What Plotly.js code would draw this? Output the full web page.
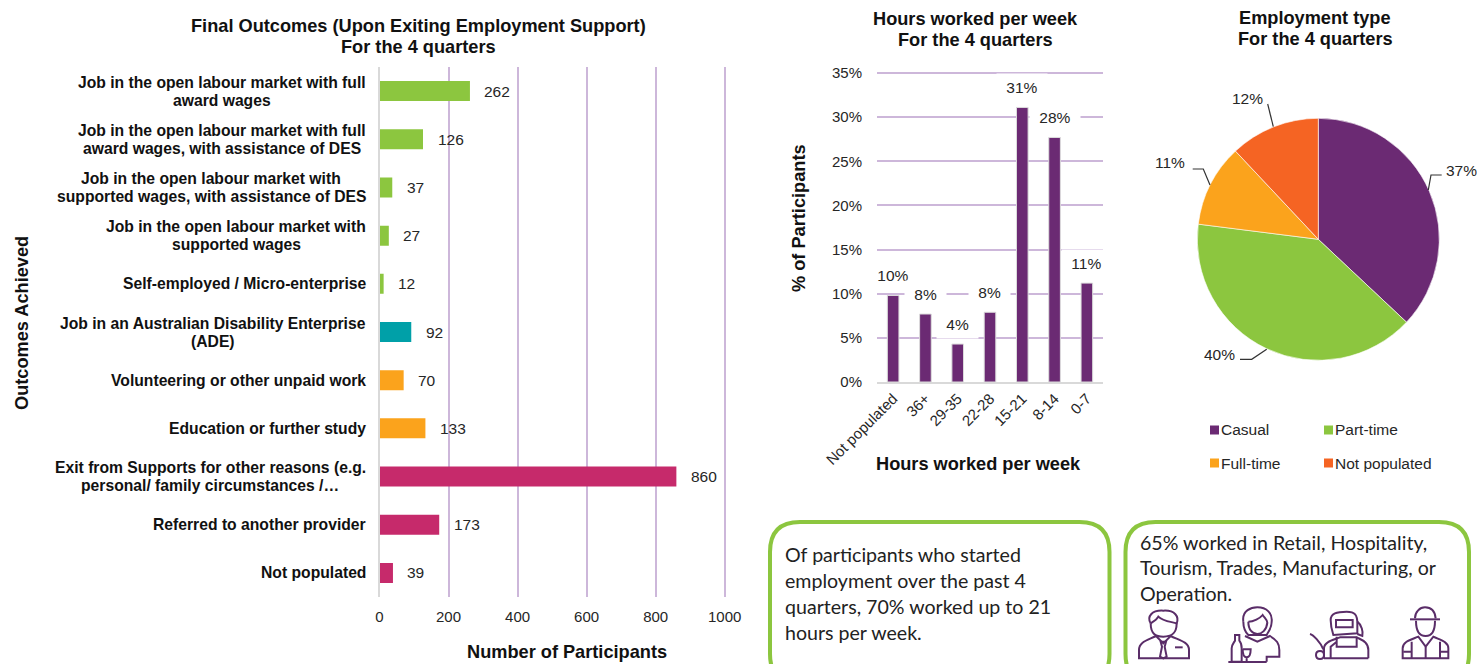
<!DOCTYPE html>
<html>
<head>
<meta charset="utf-8">
<script src="https://cdn.plot.ly/plotly-3.0.1.min.js"></script>
<style>html,body{margin:0;padding:0;background:#fff;overflow:hidden}#chart{width:1477px;height:664px}</style>
</head>
<body>
<div id="chart"></div>
<script>
const outcomeLabels = [
  "Job in the open labour market with full<br>award wages",
  "Job in the open labour market with full<br>award wages, with assistance of DES",
  "Job in the open labour market with<br>supported wages, with assistance of DES",
  "Job in the open labour market with<br>supported wages",
  "Self-employed / Micro-enterprise",
  "Job in an Australian Disability Enterprise<br>(ADE)",
  "Volunteering or other unpaid work",
  "Education or further study",
  "Exit from Supports for other reasons (e.g.<br>personal/ family circumstances /…",
  "Referred to another provider",
  "Not populated"
];
const outcomeValues = [262, 126, 37, 27, 12, 92, 70, 133, 860, 173, 39];
const outcomeColors = ["#8CC63F","#8CC63F","#8CC63F","#8CC63F","#8CC63F","#00A0A8","#FBA31C","#FBA31C","#C62A6B","#C62A6B","#C62A6B"];
const outcomeTicks = [0, 200, 400, 600, 800, 1000];
const hourBands = ["Not populated","36+","29-35","22-28","15-21","8-14","0-7"];
const hourValues = [9.8, 7.7, 4.3, 7.9, 31.1, 27.7, 11.2];
const hourTicks = [0, 5, 10, 15, 20, 25, 30, 35];
const typeNames = ["Casual","Part-time","Full-time","Not populated"];
const typeValues = [37, 40, 11, 12];
const typeColors = ["#6B2A73","#8CC63F","#FBA31C","#F56423"];
const box1Lines = ["Of participants who started","employment over the past 4","quarters, 70% worked up to 21","hours per week."];
const box2Lines = ["65% worked in Retail, Hospitality,","Tourism, Trades, Manufacturing, or","Operation."];
const titleLeft = ["Final Outcomes (Upon Exiting Employment Support)","For the 4 quarters"];
const titleMiddle = ["Hours worked per week","For the 4 quarters"];
const titleRight = ["Employment type","For the 4 quarters"];

const W = 1477, H = 664;
const fx = p => p / W, fy = p => 1 - p / H;
const SANS = '"Liberation Sans", Arial, sans-serif';
const GRID = '#CDB7DA', AXIS = '#D9D9D9', INK = '#262626', BOXG = '#8CC63F', ICON = '#5A2D68';
const TITLE_SIZE = 18.2, CAT_SIZE = 15.7, VAL_SIZE = 15.5, BODY_SIZE = 19.6;

const note = (px, py, text, opts) => Object.assign({
  xref:'paper', yref:'paper', x:fx(px), y:fy(py), text, showarrow:false,
  font:{family:SANS,size:VAL_SIZE,color:INK}, xanchor:'center', yanchor:'middle'
}, opts || {});
const bold = (size) => ({family:SANS,size,color:'#111',weight:700});
const ctx = document.createElement('canvas').getContext('2d');
ctx.font = 'bold ' + CAT_SIZE + 'px "Liberation Sans", Arial, sans-serif';

const annotations = [];
// titles, one annotation per line for the tight line spacing
titleLeft.forEach((t,i)=>annotations.push(note(418,26+i*21,'<b>'+t+'</b>',{font:bold(TITLE_SIZE)})));
titleMiddle.forEach((t,i)=>annotations.push(note(975,19+i*21,'<b>'+t+'</b>',{font:bold(TITLE_SIZE)})));
titleRight.forEach((t,i)=>annotations.push(note(1315,18+i*21,'<b>'+t+'</b>',{font:bold(TITLE_SIZE)})));
// axis titles
annotations.push(note(567,652,'<b>Number of Participants</b>',{font:bold(TITLE_SIZE)}));
annotations.push(note(22,323,'<b>Outcomes Achieved</b>',{font:bold(TITLE_SIZE),textangle:-90}));
annotations.push(note(978,464,'<b>Hours worked per week</b>',{font:bold(TITLE_SIZE)}));
annotations.push(note(799,218,'<b>% of Participants</b>',{font:bold(TITLE_SIZE),textangle:-90}));
// left chart category labels (block right-aligned, lines centred in the block) and values
outcomeLabels.forEach((c,i)=>{
  const lines = c.split('<br>');
  const blockW = Math.max(...lines.map(l=>ctx.measureText(l).width));
  lines.forEach((l,k)=>{
    annotations.push({xref:'paper',yref:'y',x:fx(366-blockW/2),y:c,yshift:((lines.length-1)/2-k)*18,text:'<b>'+l+'</b>',showarrow:false,xanchor:'center',yanchor:'middle',font:bold(CAT_SIZE)});
  });
  annotations.push({xref:'x',yref:'y',x:outcomeValues[i],y:c,text:String(outcomeValues[i]),showarrow:false,xanchor:'left',yanchor:'middle',xshift:12.5,font:{family:SANS,size:VAL_SIZE,color:INK}});
});
// middle chart value labels
hourBands.forEach((c,i)=>{
  annotations.push({xref:'x2',yref:'y2',x:c,y:hourValues[i],text:'&nbsp;'+Math.round(hourValues[i])+'%&nbsp;',showarrow:false,xanchor:'center',yanchor:'middle',yshift:20,bgcolor:'#fff',borderpad:5,font:{family:SANS,size:VAL_SIZE,color:INK}});
});
// pie labels
const pieLabelPos = [[1461.5,170],[1219,354],[1170,163],[1247.5,99]];
typeValues.forEach((v,i)=>annotations.push(note(pieLabelPos[i][0],pieLabelPos[i][1],v+'%')));
// pie legend text
const legendPos = [[1219,430],[1333,430],[1219,463],[1333,463]];
typeNames.forEach((n,i)=>annotations.push(note(legendPos[i][0],legendPos[i][1],n,{xanchor:'left'})));
// callout text
box1Lines.forEach((t,i)=>annotations.push(note(783,554+i*26,t,{xanchor:'left',font:{family:'Lato, sans-serif',size:BODY_SIZE,color:'#222'}})));
box2Lines.forEach((t,i)=>annotations.push(note(1138,542+i*25.5,t,{xanchor:'left',font:{family:'Lato, sans-serif',size:BODY_SIZE,color:'#222'}})));

// shapes
const shapes = [];
const pts = (arr) => 'M'+arr.map(p=>fx(p[0])+' '+fy(p[1])).join(' L');
[
  [[1428.3,190],[1431,175],[1441.7,175]],
  [[1266.7,349.3],[1251.7,359.3],[1240,359.3]],
  [[1210,185],[1203.3,169],[1192.7,169]],
  [[1273.3,126.7],[1267.7,104]]
].forEach(l=>shapes.push({type:'path',xref:'paper',yref:'paper',path:pts(l),line:{color:'#333',width:1.2},fillcolor:'rgba(0,0,0,0)'}));
const legendSq = [[1210,425.5],[1324,425.5],[1210,458.5],[1324,458.5]];
legendSq.forEach((p,i)=>shapes.push({type:'rect',xref:'paper',yref:'paper',x0:fx(p[0]),x1:fx(p[0]+9),y0:fy(p[1]),y1:fy(p[1]+9),fillcolor:typeColors[i],line:{width:0}}));
const roundBox = (l,r,t,b,rad) => `M${fx(l+rad)} ${fy(t)} L${fx(r-rad)} ${fy(t)} Q${fx(r)} ${fy(t)} ${fx(r)} ${fy(t+rad)} L${fx(r)} ${fy(b-rad)} Q${fx(r)} ${fy(b)} ${fx(r-rad)} ${fy(b)} L${fx(l+rad)} ${fy(b)} Q${fx(l)} ${fy(b)} ${fx(l)} ${fy(b-rad)} L${fx(l)} ${fy(t+rad)} Q${fx(l)} ${fy(t)} ${fx(l+rad)} ${fy(t)} Z`;
shapes.push({type:'path',xref:'paper',yref:'paper',path:roundBox(770,1109.5,522,684,30),line:{color:BOXG,width:4},fillcolor:'rgba(0,0,0,0)'});
shapes.push({type:'path',xref:'paper',yref:'paper',path:roundBox(1125.5,1469,522,684,30),line:{color:BOXG,width:4},fillcolor:'rgba(0,0,0,0)'});
// worker pictograms, drawn in a 3x local grid anchored at the right callout
const iconPaths = [
  // business person
  'M92 340 C92 375 110 380 130 380 C150 380 170 375 170 340',
  'M92 340 C80 320 95 300 130 302 C165 300 178 320 170 340 C155 335 130 335 115 320 C110 330 100 335 92 340',
  'M57 445 L57 420 C57 395 85 390 108 378 L130 400 L152 378 C175 390 207 395 207 420 L207 445 Z',
  'M122 395 L138 395 L134 410 L140 440 L130 445 L120 440 L126 410 Z',
  'M165 412 L188 412',
  // waitress
  'M370 335 C365 300 395 292 412 292 C440 292 458 310 455 335 C455 355 445 365 440 375 L385 375 C375 365 370 350 370 335',
  'M385 335 C400 335 420 325 428 315 C435 325 442 330 442 338 C440 360 425 372 412 372 C398 372 385 360 385 335',
  'M375 378 L412 395 L450 378 C470 390 478 400 478 420 L478 440 L440 440 L440 455',
  'M345 375 L358 375 L358 392 C365 400 365 405 365 415 L365 455 L335 455 L335 415 C335 405 340 400 345 392 Z',
  'M368 418 L392 418 C392 440 385 442 380 442 C375 442 368 440 368 418 M380 442 L380 455',
  'M325 456 L440 456',
  // welder
  'M632 330 C632 310 650 305 680 305 C705 305 712 315 712 340 L712 370 L640 375 C635 360 632 350 632 330 Z',
  'M648 330 L698 330 L698 352 L648 352 Z',
  'M712 335 C725 345 730 365 727 378 L712 372',
  'M612 445 L612 415 C612 395 640 390 660 382 L710 382 C725 390 745 395 745 420 L745 445',
  'M632 445 L632 410 L650 395 M650 380 L650 410 L710 410 L710 380 M612 445 L745 445',
  'M570 372 C580 375 600 395 610 418',
  'M588 435 C588 419 612 419 612 435 C612 451 588 451 588 435 Z',
  // construction worker
  'M885 325 C885 305 900 292 915 292 C935 292 945 305 947 325',
  'M870 328 L960 328',
  'M888 332 C888 365 900 378 917 378 C935 378 945 365 945 332',
  'M848 445 L848 415 C848 395 870 390 895 380 L917 410 L940 380 C960 390 985 395 985 415 L985 445 Z',
  'M875 395 L875 445 M960 395 L960 445 M917 410 L917 445 M850 425 L875 425 M960 425 L985 425'
];
const toPaper = d => d.replace(/(-?\d+\.?\d*) (-?\d+\.?\d*)/g,(m,a,b)=>fx(1120+a/3)+' '+fy(510+b/3));
iconPaths.forEach(d=>shapes.push({type:'path',xref:'paper',yref:'paper',path:toPaper(d),line:{color:ICON,width:2},fillcolor:'rgba(0,0,0,0)'}));

const traces = [
  {type:'bar',orientation:'h',x:outcomeValues,y:outcomeLabels,xaxis:'x',yaxis:'y',marker:{color:outcomeColors},width:0.415},
  {type:'bar',x:hourBands,y:hourValues,xaxis:'x2',yaxis:'y2',width:0.36,marker:{color:'#6B2A73',line:{color:'#DDDDDD',width:1}}},
  {type:'pie',labels:typeNames,values:typeValues,sort:false,direction:'clockwise',rotation:0,
   marker:{colors:typeColors,line:{color:'#fff',width:0.6}},textinfo:'none',
   domain:{x:[fx(1197.3),fx(1439.3)],y:[fy(360.3),fy(118.3)]}}
];

// each value axis runs slightly past its last tick so the end gridline is kept
const layout = {
  width:W,height:H,margin:{l:0,r:0,t:0,b:0},paper_bgcolor:'#fff',plot_bgcolor:'#fff',showlegend:false,
  font:{family:SANS,size:15,color:INK},
  xaxis:{domain:[fx(379.5),fx(379.5+345.2*1.005)],range:[0,1005],tickmode:'array',tickvals:outcomeTicks,ticktext:outcomeTicks.map(String),anchor:'y',showgrid:true,gridcolor:GRID,gridwidth:2,zeroline:false,showline:false,ticks:'',ticklabelstandoff:9,tickfont:{family:SANS,size:15,color:INK}},
  yaxis:{domain:[fy(597),fy(67)],anchor:'x',type:'category',categoryorder:'array',categoryarray:outcomeLabels,range:[10.5,-0.5],showticklabels:false,ticks:'',showgrid:false,zeroline:false,showline:true,linecolor:AXIS,linewidth:2},
  xaxis2:{domain:[fx(877),fx(1103)],range:[-0.5,6.5],anchor:'y2',type:'category',categoryorder:'array',categoryarray:hourBands,tickangle:-45,ticks:'',showgrid:false,zeroline:false,showline:true,linecolor:AXIS,linewidth:2,tickfont:{family:SANS,size:15,color:INK}},
  yaxis2:{domain:[fy(382),fy(382-309*35.2/35)],anchor:'x2',range:[0,35.2],tickmode:'array',tickvals:hourTicks,ticktext:hourTicks.map(v=>v+'%'),ticks:'',showgrid:true,gridcolor:GRID,gridwidth:2,zeroline:false,showline:false,ticklabelstandoff:14,tickfont:{family:SANS,size:15,color:INK}},
  annotations,shapes
};
Plotly.newPlot('chart',traces,layout,{displayModeBar:false,staticPlot:true});
</script>
</body>
</html>
